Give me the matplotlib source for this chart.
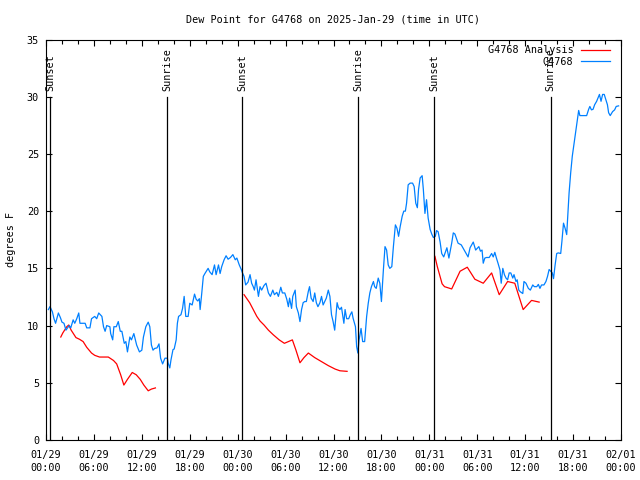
import datetime as dt
import matplotlib
matplotlib.use('Agg')
import matplotlib.pyplot as plt
import matplotlib.dates as mdates
import numpy as np

plt.rcParams['font.family'] = 'DejaVu Sans Mono'
plt.rcParams['font.size'] = 7.3

start = dt.datetime(2025, 1, 29, 0, 0)

# observed dew point (hours since 01/29 00:00 UTC, degrees F)
obs_hours = [0.3, 0.5, 0.8, 1.0, 1.2, 1.55, 1.8, 2.0, 2.25, 2.5, 2.9, 3.1, 3.4, 3.6, 3.85, 4.1, 4.25,
             4.9, 5.1, 5.5, 5.7, 6.1, 6.35, 6.6, 7.0, 7.2, 7.4, 7.6, 8.0, 8.1, 8.35, 8.5, 8.8, 9.05,
             9.3, 9.5, 9.8, 10.0, 10.2, 10.5, 10.7, 11.0, 11.35, 11.7, 12.0, 12.2, 12.5, 12.8, 13.0,
             13.2, 13.4, 13.6, 13.9, 14.15, 14.35, 14.6, 14.9, 15.2, 15.3, 15.5, 15.65, 15.9, 16.05,
             16.3, 16.45, 16.6, 16.9, 17.1, 17.3, 17.5, 17.8, 18.0, 18.3, 18.6, 18.8, 19.0, 19.2,
             19.3, 19.5, 19.7, 19.9, 20.3, 20.5, 20.8, 21.1, 21.3, 21.6, 21.8, 22.0, 22.3, 22.55,
             22.8, 23.1, 23.4, 23.7, 23.9, 24.2, 24.45, 24.6, 24.8, 25.0, 25.3, 25.55, 25.75, 25.95,
             26.1, 26.3, 26.6, 26.8, 27.0, 27.3, 27.55, 27.85, 28.1, 28.4, 28.6, 28.9, 29.1, 29.4,
             29.6, 29.9, 30.15, 30.35, 30.5, 30.75, 30.9, 31.2, 31.35, 31.6, 31.8, 32.0, 32.2, 32.4,
             32.6, 32.85, 33.0, 33.2, 33.45, 33.65, 33.85, 34.05, 34.3, 34.5, 34.7, 34.9, 35.1,
             35.35, 35.55, 35.75, 35.95, 36.15, 36.3, 36.45, 36.6, 36.8, 37.0, 37.3, 37.45, 37.65,
             37.9, 38.1, 38.3, 38.45, 38.75, 38.9, 39.05, 39.2, 39.45, 39.65, 39.9, 40.15, 40.35,
             40.55, 40.75, 41.0, 41.15, 41.35, 41.6, 41.8, 42.0, 42.25, 42.45, 42.65, 42.85, 43.05,
             43.3, 43.5, 43.75, 43.95, 44.15, 44.35, 44.6, 44.8, 45.0, 45.15, 45.35, 45.6, 45.9,
             46.1, 46.3, 46.5, 46.65, 46.85, 47.1, 47.25, 47.45, 47.65, 47.85, 48.1, 48.3, 48.5,
             48.75, 48.9, 49.1, 49.35, 49.55, 49.8, 50.2, 50.45, 50.8, 51.0, 51.2, 51.6, 52.0,
             52.45, 52.85, 53.1, 53.5, 53.8, 54.2, 54.4, 54.6, 54.75, 54.95, 55.15, 55.5, 55.8,
             56.0, 56.2, 56.4, 56.6, 56.85, 57.0, 57.2, 57.4, 57.6, 57.8, 58.0, 58.2, 58.45, 58.6,
             58.85, 59.0, 59.2, 59.4, 59.7, 59.85, 60.1, 60.4, 60.65, 60.95, 61.15, 61.45, 61.65,
             61.85, 62.05, 62.35, 62.6, 62.8, 63.0, 63.2, 63.4, 63.55, 63.75, 63.95, 64.15, 64.45,
             64.6, 64.8, 65.0, 65.2, 65.35, 65.5, 65.7, 65.9, 66.1, 66.3, 66.5, 66.7, 66.85, 67.2,
             67.7, 67.95, 68.1, 68.3, 68.5, 68.7, 68.95, 69.3, 69.5, 69.7, 69.9, 70.1, 70.3, 70.45,
             70.65, 70.95, 71.2, 71.4, 71.7]
obs_vals = [11.4, 11.66, 11.2, 10.6, 10.2, 11.1, 10.7, 10.3, 10.2, 9.6, 10.0, 9.8, 10.5, 10.2, 10.6,
            11.1, 10.2, 10.2, 9.8, 9.8, 10.6, 10.8, 10.6, 11.1, 10.8, 9.9, 9.5, 10.0, 9.9, 9.3, 8.75,
            9.9, 9.9, 10.35, 9.5, 9.5, 8.45, 8.6, 7.7, 9.0, 8.75, 9.3, 8.3, 7.7, 7.85, 9.0, 9.9, 10.3,
            9.9, 8.3, 7.85, 8.0, 8.05, 8.4, 7.15, 6.65, 7.15, 7.15, 6.7, 6.3, 7.0, 7.9, 7.95, 8.75,
            10.2, 10.8, 10.95, 11.5, 12.55, 10.8, 10.8, 11.95, 11.8, 12.75, 12.3, 12.15, 12.35, 11.4,
            12.8, 14.3, 14.55, 15.0, 14.7, 14.45, 15.3, 14.45, 15.3, 14.55, 15.15, 15.75, 16.1, 15.8,
            15.95, 16.2, 15.75, 15.9, 15.3, 14.9, 14.6, 14.3, 13.55, 13.8, 14.45, 13.7, 13.4, 13.1,
            14.0, 12.55, 13.4, 13.1, 13.5, 13.7, 12.85, 12.55, 13.1, 12.7, 12.9, 12.55, 13.35, 12.85,
            12.85, 12.3, 11.65, 12.4, 11.5, 12.55, 13.1, 11.65, 11.1, 10.35, 11.4, 12.0, 12.1, 12.1,
            13.0, 13.4, 12.4, 12.1, 12.85, 12.0, 11.65, 12.0, 12.55, 11.8, 12.1, 12.4, 13.1, 12.55,
            10.95, 10.35, 9.6, 10.8, 12.0, 11.6, 11.4, 11.6, 10.2, 11.4, 10.6, 10.6, 10.95, 11.2,
            10.65, 9.9, 8.15, 7.6, 8.75, 9.75, 8.6, 8.6, 10.8, 11.95, 12.85, 13.4, 13.85, 13.4, 13.25,
            14.15, 13.7, 12.1, 14.9, 16.9, 16.6, 15.3, 15.0, 15.15, 16.9, 18.8, 18.5, 17.8, 18.65,
            19.55, 20.0, 20.0, 20.7, 22.3, 22.45, 22.45, 22.15, 20.7, 20.3, 21.9, 22.9, 23.1, 21.9,
            19.8, 21.0, 19.4, 18.4, 18.0, 17.7, 17.8, 18.3, 18.2, 17.3, 16.3, 16.0, 16.8, 15.9, 17.2,
            18.1, 18.0, 17.2, 17.05, 16.5, 16.0, 16.8, 17.3, 16.6, 16.9, 16.5, 16.6, 15.45, 15.9,
            15.95, 15.95, 16.3, 16.0, 16.4, 15.9, 15.45, 14.85, 13.7, 15.0, 14.45, 14.15, 14.0, 14.6,
            14.6, 14.15, 14.45, 13.85, 14.0, 13.1, 12.95, 12.8, 13.85, 13.7, 13.25, 13.1, 13.55,
            13.4, 13.4, 13.6, 13.25, 13.55, 13.55, 13.85, 14.3, 14.9, 14.75, 14.6, 14.1, 15.3, 16.3,
            16.35, 16.3, 17.35, 18.95, 18.5, 17.95, 19.85, 21.6, 23.35, 24.8, 25.8, 26.85, 27.85,
            28.8, 28.35, 28.35, 28.35, 28.9, 29.15, 28.85, 28.9, 29.3, 29.6, 30.2, 29.6, 30.2, 30.2,
            29.75, 29.3, 28.6, 28.35, 28.7, 28.85, 29.15, 29.2]

# analysis, three runs separated by gaps (nan)
ana_hours = [1.85, 2.1, 2.6, 2.85, 3.15, 3.75, 4.2, 4.65, 5.1, 5.7, 6.1, 6.7, 7.8, 8.45, 8.85, 9.35,
             9.75, 10.2, 10.8, 11.3, 11.8, 12.25, 12.8, 13.2, 13.7, np.nan,
             24.8, 25.5, 25.95, 26.4, 26.8, 27.3, 27.85, 28.45, 29.2, 29.85, 30.35, 30.85, 31.3,
             31.8, 32.3, 32.85, 33.65, 34.5, 35.35, 36.2, 36.8, 37.7, np.nan,
             48.7, 49.0, 49.3, 49.6, 49.9, 50.8, 51.85, 52.75, 53.7, 54.75, 55.8, 56.75, 57.8,
             58.7, 59.75, 60.8, 61.75]
ana_vals = [9.0, 9.35, 9.9, 10.05, 9.6, 8.95, 8.8, 8.6, 8.1, 7.6, 7.4, 7.25, 7.25, 6.95, 6.65, 5.7,
            4.8, 5.3, 5.9, 5.7, 5.3, 4.8, 4.3, 4.45, 4.55, np.nan,
            12.7, 12.0, 11.4, 10.8, 10.4, 10.05, 9.6, 9.2, 8.75, 8.45, 8.6, 8.75, 7.85, 6.75, 7.2,
            7.6, 7.2, 6.85, 6.5, 6.2, 6.05, 6.0, np.nan,
            16.05, 15.15, 14.4, 13.65, 13.4, 13.2, 14.75, 15.1, 14.05, 13.7, 14.6, 12.7, 13.85,
            13.7, 11.4, 12.2, 12.05]

sun_hours = [0.55, 15.2, 24.6, 39.1, 48.6, 63.2]
sun_labels = ['Sunset', 'Sunrise', 'Sunset', 'Sunrise', 'Sunset', 'Sunrise']


def to_num(hours):
    # nan hours stay nan so the line breaks there
    return [mdates.date2num(start + dt.timedelta(hours=h)) if not np.isnan(h) else np.nan
            for h in hours]


fig = plt.figure(figsize=(6.4, 4.8), dpi=100)
ax = fig.add_axes([46 / 640, 40 / 480, 575 / 640, 400.5 / 480])

ax.plot(to_num(ana_hours), ana_vals, color='#ff0000', lw=0.9, label='G4768 Analysis')
ax.plot(to_num(obs_hours), obs_vals, color='#0080ff', lw=0.9, label='G4768')

for t, lab in zip(to_num(sun_hours), sun_labels):
    ax.plot([t, t], [0, 30], color='black', lw=0.9)
    ax.text(t, 30.5, lab, rotation=90, ha='center', va='bottom')

ax.set_xlim(start, start + dt.timedelta(hours=72))
ax.set_ylim(0, 35)
ax.set_yticks(range(0, 36, 5))
ax.xaxis.set_major_locator(mdates.HourLocator(byhour=range(0, 24, 6)))
ax.xaxis.set_minor_locator(mdates.HourLocator(interval=2))
ax.xaxis.set_major_formatter(mdates.DateFormatter('%m/%d\n%H:%M'))
ax.tick_params(which='both', direction='in', top=True, right=True, width=0.8)
ax.tick_params(which='major', length=4)
ax.tick_params(which='minor', length=3)
ax.tick_params(axis='x', pad=7)
ax.tick_params(axis='y', pad=5)
for lbl in ax.get_xticklabels():
    lbl.set_linespacing(1.45)

ax.set_title('Dew Point for G4768 on 2025-Jan-29 (time in UTC)', fontsize=7.3, pad=12)
ax.set_ylabel('degrees F')
ax.yaxis.set_label_coords(-0.052, 0.5)

ax.legend(loc='upper right', bbox_to_anchor=(0.995, 1.006), frameon=False, markerfirst=False,
          handlelength=2.9, handletextpad=0.7, labelspacing=0.15, borderaxespad=0.6,
          borderpad=0.2)

fig.savefig('out.png', dpi=100)
